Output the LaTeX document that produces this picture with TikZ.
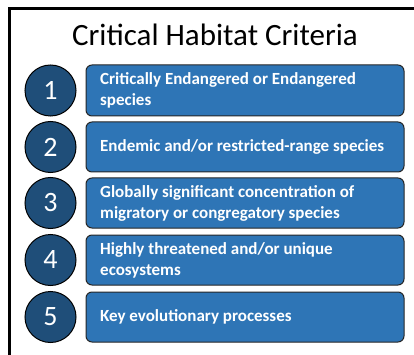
\documentclass[tikz,border=0pt]{standalone}
\usepackage{fontspec}
\setmainfont{Carlito}
\definecolor{boxblue}{HTML}{2E75B6}
\definecolor{circblue}{HTML}{1F4E79}
\begin{document}
\begin{tikzpicture}[x=1pt,y=-1pt,
  numcirc/.style={circle,draw=black,line width=1pt,fill=circblue,minimum size=51pt,inner sep=0pt,text=white,font=\fontsize{28}{28}\selectfont},
  critbox/.style={draw=black!85,line width=1pt,fill=boxblue,rounded corners=6pt},
  crittext/.style={text=white,font=\fontsize{17}{21}\bfseries\selectfont,align=left,anchor=west,inner sep=0pt}]
\useasboundingbox (0,0) rectangle (414,355);
\fill[white] (0,0) rectangle (414,355);
\draw[line width=3pt] (9.5,355) -- (9.5,8.5) -- (414,8.5);
\node[font=\fontsize{31}{31}\selectfont] (title) at (215,35) {Critical Habitat Criteria};
\foreach \i/\yt/\yb/\txt in {1/65/116/{Critically Endangered or Endangered\\species},
  2/122/172/{Endemic and/or restricted-range species},
  3/178/228/{Globally significant concentration of\\migratory or congregatory species},
  4/235/285/{Highly threatened and/or unique\\ecosystems},
  5/292/342/{Key evolutionary processes}}{
  \node[numcirc] (c\i) at (50.5,{(\yt+\yb)/2}) {\i};
  \draw[critbox] (86,\yt) rectangle (404,\yb);
  \node[crittext] (t\i) at (100,{(\yt+\yb)/2}) {\txt};
}
\end{tikzpicture}
\end{document}
